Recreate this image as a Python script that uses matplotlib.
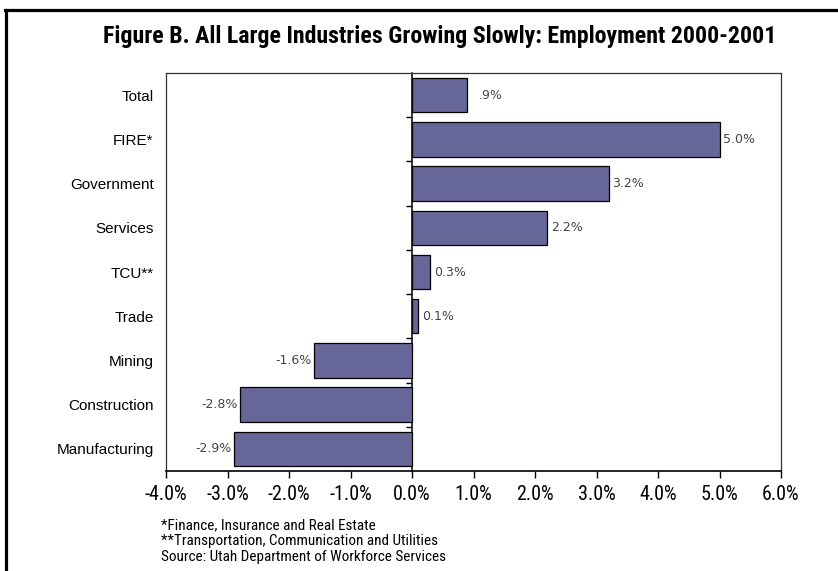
import matplotlib
matplotlib.use("Agg")
import matplotlib.pyplot as plt
from matplotlib.lines import Line2D
from matplotlib import font_manager

# Employment change by industry, 2000-2001 (percent)
industries = ["Total", "FIRE*", "Government", "Services", "TCU**",
              "Trade", "Mining", "Construction", "Manufacturing"]
growth = [0.9, 5.0, 3.2, 2.2, 0.3, 0.1, -1.6, -2.8, -2.9]
value_labels = [".9%", "5.0%", "3.2%", "2.2%", "0.3%", "0.1%",
                "-1.6%", "-2.8%", "-2.9%"]
xticks = [-4, -3, -2, -1, 0, 1, 2, 3, 4, 5, 6]
xtick_labels = ["-4.0%", "-3.0%", "-2.0%", "-1.0%", "0.0%", "1.0%",
                "2.0%", "3.0%", "4.0%", "5.0%", "6.0%"]
title = "Figure B. All Large Industries Growing Slowly: Employment 2000-2001"
notes = ["*Finance, Insurance and Real Estate",
         "**Transportation, Communication and Utilities",
         "Source: Utah Department of Workforce Services"]

names = {f.name for f in font_manager.fontManager.ttflist}
narrow_choices = ["Liberation Sans Narrow", "Roboto Condensed",
                  "Open Sans Condensed", "Arial Narrow"]
narrow = next((f for f in narrow_choices if f in names), None)
regular = "Liberation Sans"
condensed = narrow or regular

W, H = 838, 571
fig = plt.figure(figsize=(W / 100, H / 100), dpi=100)
fig.patch.set_facecolor("white")

def px(x0, y0, x1, y1):
    return [x0 / W, 1 - y1 / H, (x1 - x0) / W, (y1 - y0) / H]

ax = fig.add_axes(px(166, 73, 781, 471))
n = len(industries)
ypos = list(range(n))
ax.barh(ypos, growth, height=0.78, color="#666699", edgecolor="black",
        linewidth=0.9, zorder=3)
ax.set_ylim(n - 0.5, -0.5)
ax.set_xlim(-4, 6)

ax.set_yticks(ypos)
ax.set_yticklabels(industries, fontfamily=regular, fontsize=11)
ax.tick_params(axis="y", length=0, pad=9)
ax.set_xticks(xticks)
ax.set_xticklabels(xtick_labels, fontfamily=condensed,
                   fontsize=14.5 if narrow else 12.5)
ax.tick_params(axis="x", length=5, width=1, direction="out", pad=5)

for side in ["left", "top", "right"]:
    ax.spines[side].set_color("#333333")
    ax.spines[side].set_linewidth(0.9)
ax.spines["bottom"].set_linewidth(1.2)

# Category axis drawn at zero, ticks between categories
zero_frac = (0 - ax.get_xlim()[0]) / (ax.get_xlim()[1] - ax.get_xlim()[0])
sec = ax.secondary_yaxis(zero_frac)
sec.set_yticks([i + 0.5 for i in range(n - 1)])
sec.set_yticklabels([])
sec.tick_params(length=4, width=1, direction="out")
sec.spines["left"].set_linewidth(1.1)
sec.spines["left"].set_zorder(5)

for y, v, lab in zip(ypos, growth, value_labels):
    if v >= 0:
        off = 0.19 if lab.startswith(".") else 0.06
        ax.text(v + off, y, lab, ha="left", va="center", fontsize=9,
                color="#444444", fontfamily="DejaVu Sans", zorder=4)
    else:
        ax.text(v - 0.03, y, lab, ha="right", va="center", fontsize=9,
                color="#444444", fontfamily="DejaVu Sans", zorder=4)

fig.text(440 / W, 1 - 36 / H, title, ha="center", va="center",
         fontfamily=condensed, fontweight="bold",
         fontsize=17.2 if narrow else 14.6)

for i, line in enumerate(notes):
    fig.text(161 / W, 1 - (525.5 + 15.5 * i) / H, line, ha="left", va="center",
             fontfamily=condensed, fontsize=10.9 if narrow else 9.5)

# Page frame
fig.add_artist(Line2D([6.3 / W, 6.3 / W], [0, 1 - 9.7 / H], color="black",
                      linewidth=2.3, transform=fig.transFigure))
fig.add_artist(Line2D([5.2 / W, 1], [1 - 9.7 / H, 1 - 9.7 / H], color="black",
                      linewidth=2.3, transform=fig.transFigure))

fig.savefig("out.png", dpi=100)
